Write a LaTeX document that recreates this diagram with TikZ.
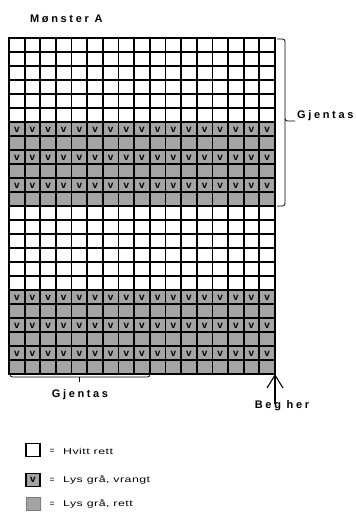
\documentclass[tikz,border=0pt]{standalone}
\usepackage{fontspec}
\setmainfont{Liberation Sans}
\newfontfamily\spacedbold[LetterSpace=24]{Liberation Sans}
\newfontfamily\legendfont[LetterSpace=4]{Liberation Sans}
\usetikzlibrary{arrows.meta}
\definecolor{knitgray}{RGB}{164,164,164}
\tikzset{
  gridline/.style={line width=1.8pt, black},
  bracket/.style={line width=0.8pt, black, rounded corners=2.5pt},
  boldlabel/.style={font=\spacedbold\bfseries\fontsize{11}{13}\selectfont, inner sep=0pt},
  legendtext/.style={font=\legendfont\fontsize{8.5}{10}\selectfont, inner sep=0pt, anchor=west},
  vmark/.style={font=\bfseries\fontsize{10}{11}\selectfont, inner sep=0pt},
  legbox/.style={line width=1.8pt, black, minimum width=14pt, minimum height=13pt, inner sep=0pt},
}
\begin{document}
\begin{tikzpicture}[x=1pt,y=-1pt]
\useasboundingbox (0,0) rectangle (356,512);
\def\cw{15.647}
% gray bands
\fill[knitgray] (9,122) rectangle (275,206);
\fill[knitgray] (9,290) rectangle (275,374);
% v marks
\foreach \r in {122,150,178,290,318,346}{
  \foreach \c in {0,...,16}{
    \node[vmark] at ({9+\cw*(\c+0.5)},{\r+8}) {v};
  }
}
% grid
\foreach \c in {0,...,17}{
  \draw[gridline] ({9+\cw*\c},38) -- ({9+\cw*\c},374);
}
\foreach \r in {0,...,24}{
  \draw[gridline] (8.1,{38+14*\r}) -- (275.9,{38+14*\r});
}
% title
\node[boldlabel, anchor=west] (title) at (30,19) {Mønster A};
% right bracket
\coordinate (rb1) at (277,39);
\coordinate (rb2) at (277,206);
\coordinate (rbt) at (295,121);
\draw[bracket] (rb1) -- (285,39) -- (285,121) -- (rbt);
\draw[bracket] (285,119) -- (285,206) -- (rb2);
\node[boldlabel, anchor=west] (gjr) at (297,116) {Gjentas};
% bottom bracket
\coordinate (bb1) at (10,374);
\coordinate (bb2) at (150,374);
\coordinate (bbt) at (79,382);
\draw[bracket] (bb1) -- (10,377) -- (150,377) -- (bb2);
\draw[line width=0.8pt] (79,377) -- (bbt);
\node[boldlabel] (gjb) at (80,395) {Gjentas};
% start arrow
\coordinate (start) at (275,374);
\node[boldlabel] (beg) at (282,406) {Beg her};
\draw[line width=1.1pt, {Straight Barb[length=13pt,width=16pt,line width=1.1pt]}-] (start) -- (275,404);
% legend
\node[legbox, draw, fill=white] (l1) at (33,450) {};
\node[legendtext, anchor=center] (e1) at (52,451) {=};
\node[legendtext] (t1) at (63,451) {\scalebox{1.45}[1]{Hvitt rett}};
\node[legbox, draw, fill=knitgray, font=\bfseries\fontsize{10}{11}\selectfont] (l2) at (33,480) {v};
\node[legendtext, anchor=center] (e2) at (52,480) {=};
\node[legendtext] (t2) at (63,480) {\scalebox{1.45}[1]{Lys grå, vrangt}};
\node[legbox, draw=knitgray!75!black, line width=0.6pt, fill=knitgray] (l3) at (33,503.5) {};
\node[legendtext, anchor=center] (e3) at (52,504) {=};
\node[legendtext] (t3) at (63,504) {\scalebox{1.45}[1]{Lys grå, rett}};
\end{tikzpicture}
\end{document}
